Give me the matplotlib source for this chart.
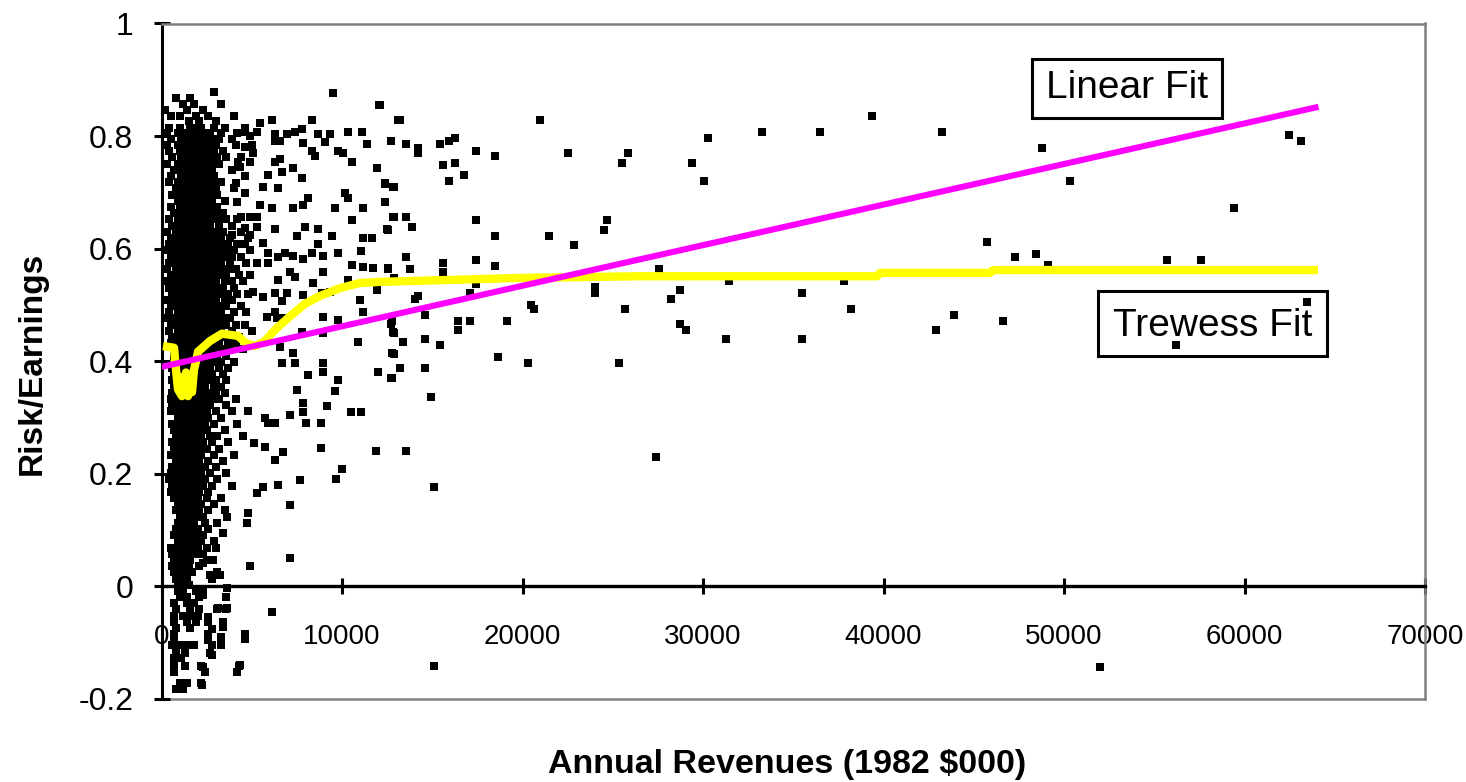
import numpy as np
import matplotlib
matplotlib.use('Agg')
import matplotlib.pyplot as plt
from matplotlib.patches import Rectangle

plt.rcParams['font.family'] = ['Liberation Sans', 'DejaVu Sans']
plt.rcParams['axes.unicode_minus'] = False

# ---------------- axis data ----------------
x_ticks = [0, 10000, 20000, 30000, 40000, 50000, 60000, 70000]
x_tick_labels = ['0', '10000', '20000', '30000', '40000', '50000', '60000', '70000']
y_ticks = [-0.2, 0.0, 0.2, 0.4, 0.6, 0.8, 1.0]
y_tick_labels = ['-0.2', '0', '0.2', '0.4', '0.6', '0.8', '1']

# ---------------- fitted lines ----------------
linear_x = [0, 64100]
linear_y = [0.390, 0.852]

trewess_x = [83, 693, 803, 914, 1136, 1025, 1247, 1468, 1358, 1580, 1690, 1800, 1913, 2022,
             2687, 3352, 4238, 4681, 5180, 5734,
             6288, 7119, 7950, 8781, 9889, 10997, 12105, 14321, 19861, 26508, 39638,
             39804, 45898, 46064, 64070]
trewess_y = [0.427, 0.424, 0.385, 0.350, 0.338, 0.372, 0.352, 0.338, 0.380, 0.360, 0.345, 0.385, 0.400, 0.417,
             0.436, 0.449, 0.445, 0.432, 0.427, 0.436,
             0.456, 0.480, 0.502, 0.516, 0.530, 0.539, 0.541, 0.543, 0.548, 0.551, 0.551,
             0.557, 0.557, 0.562, 0.562]

# ---------------- scatter: dense core (revenue in thousands, per risk row) ----------------
core_rows = [
    (0.878, [2.9]),
    (0.868, [0.8, 1.6]),
    (0.857, [1.2, 1.8, 3.3]),
    (0.846, [0.2, 1.4, 2.3]),
    (0.835, [0.5, 1.0, 1.9, 2.6, 4.0]),
    (0.826, [1.5, 2.1, 3.0]),
    (0.815, [0.4, 1.0, 1.6, 1.9, 2.2, 2.9, 3.5, 4.6]),
    (0.805, [0.3, 0.9, 1.3, 1.7, 2.0, 2.4, 2.7, 3.3, 4.2]),
    (0.795, [0.5, 1.1, 1.4, 1.8, 2.1, 2.5, 2.8, 3.2, 3.9]),
    (0.784, [0.3, 0.9, 1.2, 1.5, 1.8, 2.1, 2.4, 2.7, 3.0, 4.1, 5.0]),
    (0.773, [0.4, 1.0, 1.3, 1.6, 1.9, 2.3, 2.6, 2.9, 3.4]),
    (0.762, [0.6, 1.1, 1.4, 1.7, 2.0, 2.2, 2.5, 2.7, 3.1, 3.6, 4.4]),
    (0.751, [0.3, 0.9, 1.2, 1.5, 1.9, 2.1, 2.4, 2.8, 3.2]),
    (0.740, [0.7, 1.0, 1.3, 1.6, 1.8, 2.1, 2.5, 2.8, 3.9]),
    (0.729, [0.5, 1.1, 1.4, 1.7, 2.0, 2.3, 2.6, 2.9, 4.6]),
    (0.718, [0.4, 0.9, 1.2, 1.5, 1.9, 2.2, 2.6, 2.9, 3.3]),
    (0.707, [0.8, 1.1, 1.4, 1.7, 2.0, 2.4, 2.7, 3.0, 4.0]),
    (0.696, [0.6, 1.0, 1.3, 1.6, 1.9, 2.2, 2.5, 2.7, 3.1]),
    (0.685, [0.9, 1.2, 1.5, 1.8, 2.1, 2.5, 2.8, 3.5]),
    (0.674, [0.5, 1.0, 1.4, 1.7, 2.0, 2.3, 2.5, 2.8, 3.1]),
    (0.663, [0.7, 1.1, 1.4, 1.7, 2.0, 2.3, 2.6, 3.0, 3.4]),
    (0.652, [0.4, 0.9, 1.2, 1.6, 1.9, 2.2, 2.5, 2.9, 3.2, 3.6, 4.2]),
    (0.641, [0.6, 1.0, 1.3, 1.7, 2.0, 2.4, 2.7, 3.2, 3.9]),
    (0.630, [0.3, 0.8, 1.1, 1.4, 1.8, 2.1, 2.5, 2.8, 3.0, 3.4, 4.4]),
    (0.619, [0.5, 0.9, 1.3, 1.6, 1.9, 2.3, 2.6, 2.9, 3.3, 3.8, 4.8]),
    (0.608, [0.4, 0.8, 1.1, 1.4, 1.7, 2.0, 2.3, 2.7, 3.0, 3.4, 3.7, 4.2, 4.6]),
    (0.597, [0.3, 0.7, 1.0, 1.3, 1.6, 1.9, 2.2, 2.5, 2.9, 3.2, 3.6, 4.0, 4.9]),
    (0.586, [0.5, 0.9, 1.2, 1.5, 1.8, 2.1, 2.4, 2.8, 3.1, 3.5, 3.9, 4.4]),
    (0.575, [0.4, 0.7, 1.0, 1.4, 1.7, 2.0, 2.3, 2.6, 3.0, 3.3, 3.8, 4.7, 5.3]),
    (0.564, [0.3, 0.8, 1.1, 1.4, 1.7, 2.0, 2.4, 2.7, 3.1, 3.4, 3.7, 4.1]),
    (0.553, [0.5, 0.9, 1.2, 1.5, 1.9, 2.2, 2.5, 2.9, 3.2, 3.6, 4.3, 4.9]),
    (0.542, [0.3, 0.7, 1.0, 1.3, 1.6, 2.0, 2.3, 2.6, 3.0, 3.5, 3.9, 4.5]),
    (0.531, [0.4, 0.8, 1.1, 1.5, 1.8, 2.1, 2.4, 2.8, 3.1, 3.4, 4.0]),
    (0.520, [0.6, 0.9, 1.2, 1.6, 1.9, 2.2, 2.6, 2.9, 3.3, 3.7, 4.2, 4.8]),
    (0.509, [0.3, 0.7, 1.0, 1.4, 1.7, 2.0, 2.3, 2.7, 3.0, 3.5, 3.9]),
    (0.498, [0.5, 0.8, 1.1, 1.5, 1.8, 2.1, 2.5, 2.8, 3.2, 3.6, 4.4]),
    (0.487, [0.4, 0.9, 1.2, 1.6, 1.9, 2.2, 2.6, 2.9, 3.3, 4.0, 4.7]),
    (0.476, [0.3, 0.7, 1.0, 1.3, 1.7, 2.0, 2.4, 2.7, 3.1, 3.4, 3.8]),
    (0.465, [0.5, 0.8, 1.1, 1.5, 1.8, 2.1, 2.5, 2.8, 3.2, 3.6, 4.1, 4.6]),
    (0.454, [0.4, 0.9, 1.2, 1.6, 1.9, 2.3, 2.6, 3.0, 3.3, 3.9, 5.0]),
    (0.443, [0.6, 1.0, 1.3, 1.7, 2.0, 2.4, 2.7, 3.1, 3.5, 4.3]),
    (0.432, [0.5, 0.8, 1.1, 1.4, 1.8, 2.1, 2.5, 2.9, 3.2, 3.7, 4.1]),
    (0.421, [0.9, 1.2, 1.5, 1.9, 2.2, 2.6, 3.0, 3.4, 3.8, 4.5]),
    (0.410, [0.7, 1.0, 1.4, 1.7, 2.0, 2.4, 2.8, 3.1, 3.6]),
    (0.399, [0.8, 1.1, 1.5, 1.8, 2.1, 2.5, 2.9, 3.3, 4.0]),
    (0.388, [0.6, 1.0, 1.3, 1.6, 2.0, 2.3, 2.7, 3.2, 3.7]),
    (0.377, [0.7, 1.1, 1.4, 1.7, 2.1, 2.4, 2.8, 3.4]),
    (0.366, [0.6, 0.9, 1.2, 1.6, 1.9, 2.2, 2.6, 3.0, 3.6]),
    (0.355, [0.7, 1.0, 1.3, 1.7, 2.0, 2.4, 2.9, 3.3]),
    (0.344, [0.6, 0.9, 1.3, 1.6, 1.9, 2.2, 2.6, 3.0, 3.5]),
    (0.333, [0.5, 0.8, 1.1, 1.4, 1.8, 2.1, 2.4, 2.8, 3.2, 4.1]),
    (0.322, [0.6, 1.0, 1.3, 1.6, 1.9, 2.3, 2.7, 3.6]),
    (0.311, [0.5, 0.8, 1.1, 1.5, 1.8, 2.1, 2.5, 3.0, 3.9, 4.8]),
    (0.300, [0.9, 1.2, 1.6, 1.9, 2.2, 2.6, 3.3]),
    (0.289, [0.6, 1.0, 1.3, 1.7, 2.0, 2.4, 2.9, 4.2]),
    (0.278, [0.7, 1.1, 1.4, 1.8, 2.1, 2.5, 3.5]),
    (0.267, [0.8, 1.2, 1.5, 1.9, 2.2, 2.7, 3.1, 4.5]),
    (0.256, [0.6, 0.9, 1.3, 1.6, 2.0, 2.3, 2.8, 3.7]),
    (0.245, [0.7, 1.1, 1.4, 1.7, 2.1, 2.5, 3.2]),
    (0.234, [0.5, 0.9, 1.2, 1.6, 1.9, 2.2, 2.9, 4.0]),
    (0.223, [0.8, 1.1, 1.5, 1.8, 2.1, 2.6, 3.4]),
    (0.212, [0.6, 1.0, 1.3, 1.7, 2.0, 2.4, 3.0]),
    (0.201, [0.5, 0.8, 1.2, 1.5, 1.8, 2.2, 2.7, 3.6]),
    (0.190, [0.4, 0.7, 1.0, 1.4, 1.7, 2.0, 2.4, 3.1]),
    (0.179, [0.6, 0.9, 1.3, 1.6, 1.9, 2.3, 2.8, 3.9]),
    (0.168, [0.5, 0.8, 1.1, 1.5, 1.8, 2.1, 2.6]),
    (0.157, [0.7, 1.0, 1.3, 1.7, 2.0, 2.5, 3.3]),
    (0.146, [0.9, 1.2, 1.5, 1.8, 2.2, 2.9]),
    (0.135, [0.8, 1.1, 1.4, 1.7, 2.1, 2.6, 3.5]),
    (0.124, [1.0, 1.3, 1.6, 1.9, 2.3]),
    (0.113, [0.9, 1.2, 1.5, 1.8, 2.4, 3.1]),
    (0.102, [0.8, 1.1, 1.4, 1.7, 2.0, 2.6]),
    (0.091, [0.7, 1.0, 1.3, 1.6, 1.9, 2.3]),
    (0.080, [0.9, 1.2, 1.5, 1.8, 2.2, 2.9]),
    (0.069, [0.5, 0.8, 1.1, 1.4, 1.7, 2.0, 2.5, 3.0]),
    (0.058, [0.6, 0.9, 1.2, 1.5, 1.9, 2.3]),
    (0.047, [0.7, 1.0, 1.3, 1.6, 2.5]),
    (0.036, [0.6, 0.9, 1.2, 1.5, 2.1]),
    (0.025, [0.7, 1.0, 1.3, 1.7, 3.1]),
    (0.014, [0.8, 1.1, 1.4, 2.8]),
    (0.003, [0.9, 1.2, 1.5]),
    (-0.008, [0.9, 1.2, 1.9, 2.3]),
    (-0.019, [1.0, 1.4, 2.1, 3.6]),
    (-0.030, [0.7, 1.4, 1.8]),
    (-0.041, [0.8, 1.6, 2.1, 3.1, 3.6]),
    (-0.052, [0.7, 1.2, 1.6, 2.0]),
    (-0.063, [0.7, 1.4, 1.9, 2.6, 3.4]),
    (-0.074, [0.8, 1.6]),
    (-0.085, [0.7, 2.6, 4.6]),
    (-0.096, [0.7, 2.6, 3.3]),
    (-0.104, [0.6, 1.0, 1.4, 1.8]),
    (-0.118, [0.8, 1.3, 2.7]),
    (-0.128, [0.7, 1.1]),
    (-0.142, [0.7, 1.3, 2.2, 4.3]),
    (-0.152, [0.7, 2.4, 4.2]),
    (-0.172, [1.0, 1.4, 2.2]),
    (-0.183, [0.8, 1.2]),
]

# ---------------- scatter: points around the core (revenue in thousands) ----------------
near_xk = [9.50, 12.05, 5.46, 6.12, 8.34, 13.10, 4.63, 5.29, 6.29, 6.95,
           7.40, 7.78, 8.67, 9.33, 10.33, 11.11, 11.38, 4.90, 6.29, 6.57,
           7.84, 9.06, 12.71, 4.63, 5.07, 8.34, 8.50, 9.78, 10.06, 10.55,
           11.94, 6.29, 6.57, 4.24, 4.90, 4.35, 5.90, 6.68, 7.29, 7.78,
           4.13, 4.63, 5.62, 6.45, 10.17, 10.33, 12.38, 12.82, 4.18, 5.46,
           6.12, 7.29, 7.84, 8.12, 9.61, 11.16, 12.38, 4.40, 4.90, 5.29,
           5.29, 4.63, 6.29, 7.95, 8.67, 10.55, 12.82, 12.49, 3.91, 4.90,
           5.62, 7.51, 8.67, 9.45, 11.16, 11.66, 5.90, 6.45, 6.84, 7.29,
           7.84, 8.34, 8.95, 9.78, 11.05, 5.90, 7.12, 7.40, 8.95, 10.55,
           11.16, 11.72, 12.55, 6.45, 8.39, 10.33, 5.07, 5.62, 6.29, 6.95,
           7.84, 8.89, 9.33, 11.94, 11.00, 6.68, 6.29, 11.16, 5.84, 6.40,
           6.68, 8.95, 9.78, 12.77, 12.82, 7.78, 8.95, 10.89, 6.57, 7.29,
           6.68, 7.40, 8.95, 8.12, 8.95, 9.78, 11.99, 12.77, 12.77]
near_y = [0.877, 0.855, 0.823, 0.829, 0.829, 0.829, 0.807, 0.807, 0.804, 0.803,
          0.807, 0.813, 0.804, 0.804, 0.807, 0.807, 0.786, 0.801, 0.792, 0.792,
          0.788, 0.790, 0.791, 0.781, 0.770, 0.774, 0.764, 0.774, 0.770, 0.754,
          0.743, 0.754, 0.759, 0.754, 0.754, 0.745, 0.731, 0.736, 0.743, 0.726,
          0.717, 0.699, 0.710, 0.708, 0.699, 0.690, 0.717, 0.710, 0.683, 0.678,
          0.672, 0.672, 0.678, 0.690, 0.672, 0.672, 0.683, 0.656, 0.656, 0.656,
          0.638, 0.637, 0.635, 0.638, 0.635, 0.651, 0.656, 0.635, 0.624, 0.624,
          0.610, 0.622, 0.608, 0.622, 0.619, 0.619, 0.592, 0.585, 0.592, 0.587,
          0.582, 0.592, 0.587, 0.592, 0.596, 0.575, 0.559, 0.550, 0.559, 0.571,
          0.568, 0.566, 0.566, 0.544, 0.539, 0.544, 0.523, 0.514, 0.521, 0.521,
          0.518, 0.521, 0.523, 0.527, 0.509, 0.507, 0.488, 0.488, 0.479, 0.476,
          0.476, 0.479, 0.474, 0.471, 0.452, 0.452, 0.450, 0.434, 0.426, 0.415,
          0.397, 0.397, 0.397, 0.376, 0.381, 0.367, 0.381, 0.415, 0.370]

low_xk = [7.51, 9.61, 7.84, 9.17, 10.50, 11.05, 7.84, 7.12, 6.29, 8.01,
          8.84, 5.73, 5.90, 5.12, 5.73, 6.73, 6.29, 8.84, 11.88, 10.00,
          9.67, 7.67, 6.45, 5.62, 5.29, 7.12, 4.79, 4.74, 3.63, 3.41,
          7.12, 4.90, 2.85, 2.30, 2.69, 3.24, 3.63, 2.13, 2.30, 3.13,
          3.63, 6.12, 2.58, 2.80, 3.41, 3.30, 4.63, 2.80, 3.30, 2.80,
          2.30, 4.35, 2.24]
low_y = [0.349, 0.347, 0.326, 0.321, 0.310, 0.310, 0.310, 0.305, 0.290, 0.290,
         0.291, 0.300, 0.290, 0.255, 0.248, 0.238, 0.225, 0.246, 0.241, 0.209,
         0.191, 0.189, 0.180, 0.177, 0.166, 0.145, 0.131, 0.113, 0.123, 0.095,
         0.051, 0.037, 0.047, 0.042, 0.020, 0.020, -0.003, -0.015, -0.015, -0.038,
         -0.038, -0.045, -0.054, -0.075, -0.072, -0.090, -0.093, -0.104, -0.104, -0.122,
         -0.143, -0.139, -0.175]

far_xk = [12.10, 13.21, 20.97, 33.27, 12.71, 13.54, 14.21, 14.21, 15.43, 15.93,
          16.26, 30.28, 17.42, 18.48, 22.52, 25.85, 15.59, 16.26, 25.52, 29.40,
          16.76, 15.93, 30.06, 12.38, 12.88, 12.38, 12.88, 13.54, 13.88, 12.55,
          17.42, 24.68, 24.51, 18.48, 21.47, 22.85, 13.54, 15.59, 17.42, 12.55,
          13.77, 15.59, 18.48, 27.56, 12.88, 17.42, 24.02, 24.02, 28.72, 31.44,
          17.09, 14.21, 14.04, 28.23, 20.47, 20.64, 25.68, 14.60, 12.71, 16.43,
          17.09, 19.14, 28.72, 29.06, 12.88, 16.43, 13.38, 14.60, 15.43, 31.28,
          12.88, 18.64, 20.31, 25.35, 13.21, 14.60, 12.71, 14.93, 13.54, 27.40,
          15.10, 15.10, 39.37, 36.49, 43.25, 48.79, 50.34, 62.47, 63.14, 59.42,
          45.74, 47.29, 48.45, 49.11, 55.71, 57.59, 37.82, 35.49, 38.20, 43.91,
          46.62, 42.91, 35.49, 56.20, 63.47, 52.00]
far_y = [0.855, 0.829, 0.829, 0.807, 0.791, 0.786, 0.778, 0.770, 0.786, 0.791,
         0.796, 0.796, 0.774, 0.764, 0.770, 0.770, 0.748, 0.753, 0.753, 0.753,
         0.731, 0.720, 0.720, 0.715, 0.710, 0.683, 0.656, 0.656, 0.638, 0.633,
         0.651, 0.651, 0.633, 0.622, 0.622, 0.606, 0.585, 0.575, 0.580, 0.564,
         0.564, 0.559, 0.569, 0.564, 0.548, 0.537, 0.532, 0.521, 0.527, 0.543,
         0.521, 0.516, 0.511, 0.511, 0.500, 0.493, 0.493, 0.482, 0.466, 0.472,
         0.472, 0.472, 0.466, 0.456, 0.450, 0.456, 0.434, 0.440, 0.429, 0.440,
         0.413, 0.408, 0.397, 0.397, 0.388, 0.388, 0.371, 0.337, 0.241, 0.230,
         0.177, -0.141, 0.836, 0.807, 0.807, 0.778, 0.720, 0.802, 0.791, 0.673,
         0.612, 0.585, 0.591, 0.571, 0.580, 0.580, 0.543, 0.521, 0.493, 0.482,
         0.472, 0.456, 0.440, 0.429, 0.505, -0.143]

# ---------------- assemble scatter ----------------
core_xk = [x for _, xs in core_rows for x in xs]
core_y = [y for y, xs in core_rows for _ in xs]
pts_x = np.array(core_xk + near_xk + low_xk + far_xk) * 1000.0
pts_y = np.array(core_y + near_y + low_y + far_y)

# ---------------- figure ----------------
W, H = 1466, 782
fig = plt.figure(figsize=(W / 100, H / 100), dpi=100)
fig.patch.set_facecolor('white')
ax = fig.add_axes([161.5 / W, 1 - 699 / H, (1425 - 161.5) / W, (699 - 23.5) / H])
ax.set_facecolor('white')

gray = '#808080'
# spines first (moving a spine resets its ticks)
ax.spines['left'].set_color('black')
ax.spines['left'].set_linewidth(2.2)
ax.spines['bottom'].set_position(('data', 0))
ax.spines['bottom'].set_color('black')
ax.spines['bottom'].set_linewidth(2.4)
ax.spines['top'].set_color(gray)
ax.spines['top'].set_linewidth(1.8)
ax.spines['right'].set_color(gray)
ax.spines['right'].set_linewidth(1.8)
ax.plot([0, 1], [0, 0], transform=ax.transAxes, color=gray, lw=1.8, clip_on=False, zorder=1)

ax.scatter(pts_x, pts_y, marker='s', s=27, c='black', linewidths=0, zorder=2.5,
           antialiased=False)
ax.plot(trewess_x, trewess_y, color='#FFFF00', lw=6.0, solid_capstyle='butt',
        solid_joinstyle='round', zorder=3)
ax.plot(linear_x, linear_y, color='#FF00FF', lw=4.4, solid_capstyle='butt', zorder=4)

ax.set_xlim(0, 70000)
ax.set_ylim(-0.2, 1.0)
ax.set_xticks(x_ticks)
ax.set_xticklabels(x_tick_labels)
ax.set_yticks(y_ticks)
ax.set_yticklabels(y_tick_labels)
ax.tick_params(axis='y', direction='inout', length=11.5, width=2.2, pad=14.5,
               colors='black', labelsize=23)
ax.tick_params(axis='x', direction='inout', length=11.5, width=2.2, pad=21,
               colors='black', labelsize=20)

# axis titles
fig.text(787.5 / W, 1 - 765 / H, 'Annual Revenues (1982 $000)', fontsize=24.5,
         fontweight='bold', ha='center', va='center')
fig.text(32 / W, 1 - 363 / H, 'Risk/Earnings', fontsize=24, fontweight='bold',
         rotation=90, ha='center', va='center')

# labelled boxes
def px_box(x0, x1, y0, y1):
    fx0 = (x0 - 161.5) / (1425 - 161.5)
    fx1 = (x1 - 161.5) / (1425 - 161.5)
    fy0 = (699 - y1) / (699 - 23.5)
    fy1 = (699 - y0) / (699 - 23.5)
    return fx0, fy0, fx1 - fx0, fy1 - fy0

for (x0, x1, y0, y1), label, tx, ty in [
        ((1032, 1222, 59, 118), 'Linear Fit', 1127, 98),
        ((1098, 1327, 291, 356), 'Trewess Fit', 1213, 336)]:
    fx, fy, fw, fh = px_box(x0, x1, y0, y1)
    ax.add_patch(Rectangle((fx, fy), fw, fh, transform=ax.transAxes, facecolor='white',
                           edgecolor='black', lw=2.2, zorder=2, clip_on=False))
    ax.text((tx - 161.5) / (1425 - 161.5), (699 - ty) / (699 - 23.5), label,
            transform=ax.transAxes, fontsize=28, ha='center', va='baseline', zorder=2.2)

fig.savefig('out.png', dpi=100, facecolor='white')
